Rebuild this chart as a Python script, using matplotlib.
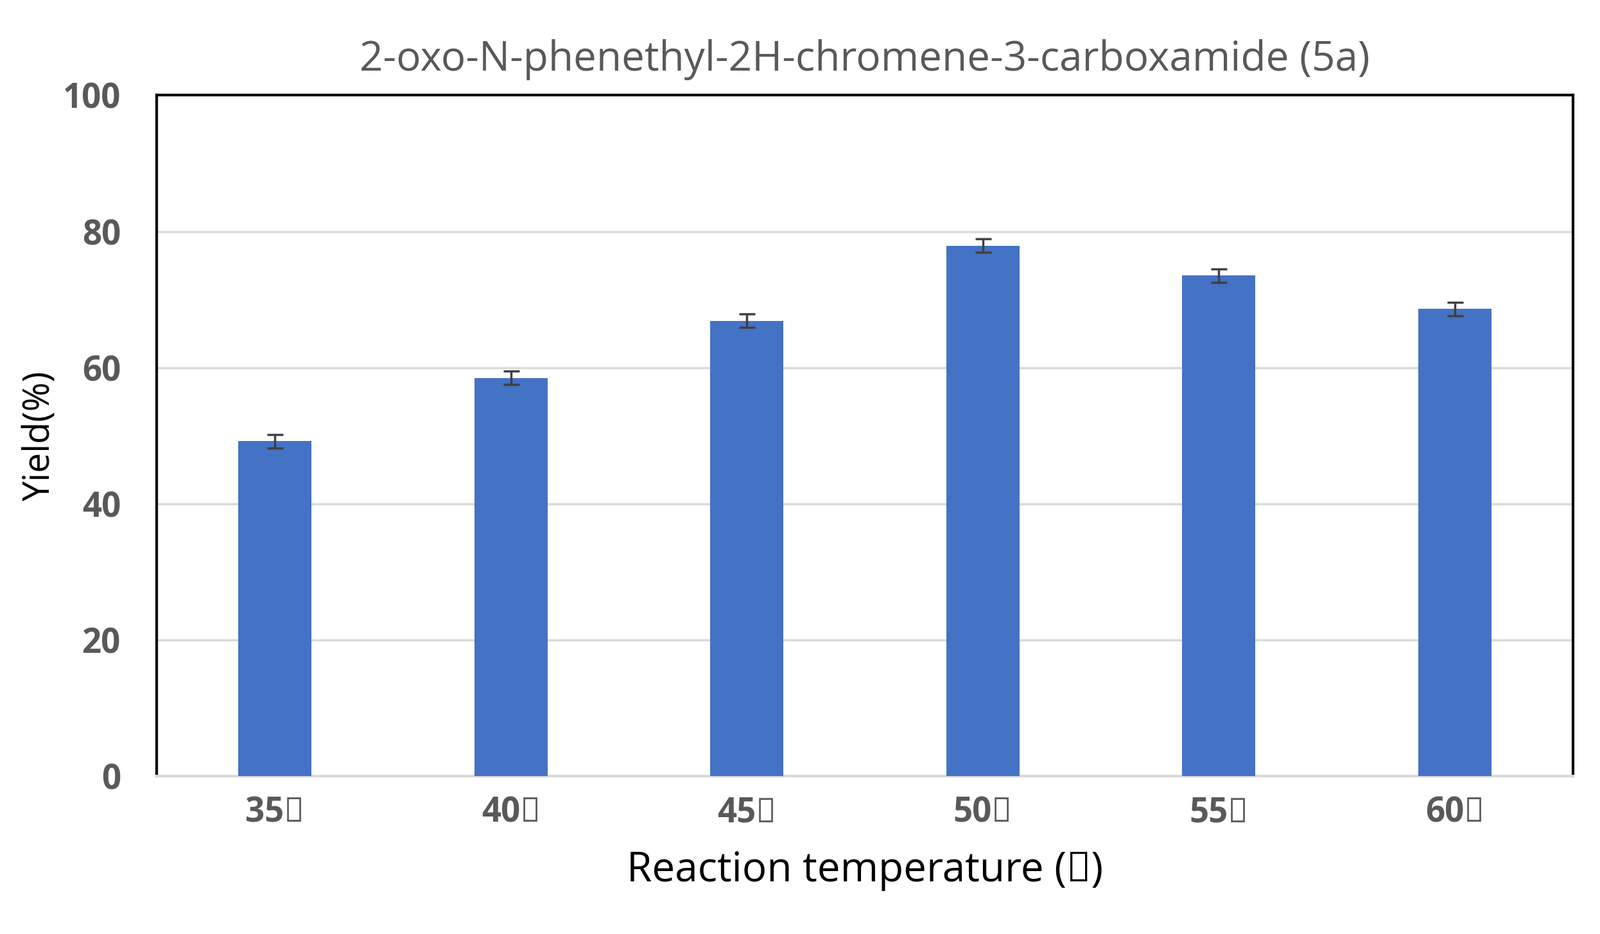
import matplotlib
matplotlib.use("Agg")
import matplotlib.pyplot as plt

categories = ["35℃", "40℃", "45℃", "50℃", "55℃", "60℃"]
yields = [49.2, 58.5, 66.9, 77.9, 73.5, 68.6]
errors = [1.0, 1.0, 1.0, 1.0, 1.0, 1.0]
yticks = [0, 20, 40, 60, 80, 100]

plt.rcParams["font.family"] = "Open Sans"
fig = plt.figure(figsize=(24.92, 14.55), dpi=100)
ax = fig.add_axes([0.098, 0.169, 0.885, 0.729])
x = list(range(len(categories)))
ax.bar(x, yields, width=0.31, color="#4472C4", zorder=3,
       yerr=errors, error_kw=dict(ecolor="#404040", elinewidth=2.5, capsize=9, capthick=2.5, zorder=4))
ax.set_xlim(-0.5, len(categories) - 0.5)
ax.set_ylim(0, 100)
ax.set_yticks(yticks)
ax.set_yticklabels([str(t) for t in yticks], fontsize=38, fontweight="bold", color="#595959")
ax.set_xticks(x)
ax.set_xticklabels(categories, fontsize=38, fontweight="bold", color="#595959")
ax.tick_params(length=0, pad=22)
ax.tick_params(axis="y", pad=40)
ax.grid(axis="y", color="#D9D9D9", linewidth=2.5, zorder=0)
for s in ["left", "top", "right"]:
    ax.spines[s].set_color("black")
    ax.spines[s].set_linewidth(3)
ax.spines["bottom"].set_color("#D9D9D9")
ax.spines["bottom"].set_linewidth(3)
ax.set_title("2-oxo-N-phenethyl-2H-chromene-3-carboxamide (5a)", fontsize=46, color="#595959", pad=28)
ax.set_xlabel("Reaction temperature (℃)", fontsize=46, color="black", labelpad=22)
ax.set_ylabel("Yield(%)", fontsize=40, color="black", labelpad=5)
fig.savefig("out.png", dpi=100)
